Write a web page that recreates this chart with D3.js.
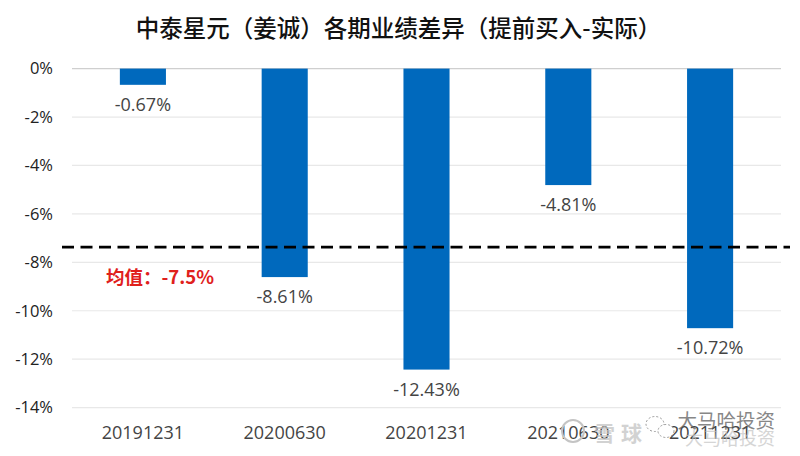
<!DOCTYPE html>
<html lang="zh-CN"><head><meta charset="utf-8">
<script src="https://cdn.jsdelivr.net/npm/d3@7/dist/d3.min.js"></script>
<style>html,body{margin:0;padding:0;background:#fff}svg{display:block}</style></head>
<body><svg id="c" width="800" height="456"></svg>
<script>
const categories=["20191231","20200630","20201231","20210630","20211231"];
const values=[-0.67,-8.61,-12.43,-4.81,-10.72];
const yTicks=[0,-2,-4,-6,-8,-10,-12,-14];
const meanValue=-7.35;
const titleText="中泰星元\uFF08姜诚\uFF09各期业绩差异\uFF08提前买入-实际\uFF09";
const meanLabel="均值\uFF1A-7.5%";
const font="'Open Sans','Noto Sans CJK SC',sans-serif";
const cjk="'Noto Sans CJK SC',sans-serif";
const svg=d3.select("#c");
const x=d3.scaleBand().domain(categories).range([72,781]).paddingInner(0.675).paddingOuter(0.3375);
const y=d3.scaleLinear().domain([0,-14]).range([68.6,407.6]);
svg.append("text").attr("x",398.5).attr("y",37).attr("text-anchor","middle")
  .attr("font-family",cjk).attr("font-size",23.5).attr("font-weight",500).attr("fill","#111").text(titleText);
const yAxis=d3.axisLeft(y).tickValues(yTicks).tickFormat(d=>d+"%").tickSize(0).tickPadding(19);
const gy=svg.append("g").attr("transform","translate(72,0)").call(yAxis);
gy.select(".domain").remove();
gy.selectAll("text").attr("font-family",font).attr("font-size",16.5).attr("fill","#222");
svg.append("g").selectAll("line").data(yTicks).join("line")
  .attr("x1",72).attr("x2",781).attr("y1",d=>y(d)).attr("y2",d=>y(d))
  .attr("stroke",d=>d===0?"#cfcfcf":"#e8e8e8").attr("stroke-width",1.2);
svg.append("g").selectAll("rect").data(values).join("rect")
  .attr("x",(d,i)=>x(categories[i])).attr("width",x.bandwidth())
  .attr("y",y(0)).attr("height",d=>y(d)-y(0)).attr("fill","#0069bd");
svg.append("g").selectAll("text").data(values).join("text")
  .attr("x",(d,i)=>x(categories[i])+x.bandwidth()/2).attr("y",d=>y(d)+26)
  .attr("text-anchor","middle").attr("font-family",font).attr("font-size",18).attr("fill","#444")
  .text(d=>d.toFixed(2)+"%");
svg.append("line").attr("x1",62).attr("x2",790).attr("y1",y(meanValue)+0.5).attr("y2",y(meanValue)+0.5)
  .attr("stroke","#000").attr("stroke-width",2.6).attr("stroke-dasharray","12 6.5");
svg.append("text").attr("x",106).attr("y",283.5).attr("font-family",cjk)
  .attr("font-size",18.5).attr("font-weight",700).attr("fill","#e0201c").text(meanLabel);
svg.append("g").selectAll("text").data(categories).join("text")
  .attr("x",d=>x(d)+x.bandwidth()/2).attr("y",439).attr("text-anchor","middle")
  .attr("font-family",font).attr("font-size",18).attr("fill","#444").text(d=>d);
// watermark
svg.append("circle").attr("cx",573).attr("cy",431).attr("r",11).attr("fill","none").attr("stroke","#c4c4c4").attr("stroke-width",2);
svg.append("text").attr("x",594).attr("y",441).attr("letter-spacing",6).attr("font-family",cjk)
  .attr("font-size",21).attr("font-weight",700).attr("fill","#c4c4c4").attr("opacity",0.75).text("雪球");
svg.append("ellipse").attr("cx",655).attr("cy",424).attr("rx",9).attr("ry",7.5).attr("fill","#fff").attr("stroke","#999").attr("stroke-width",1).attr("stroke-dasharray","2 2");
svg.append("ellipse").attr("cx",666).attr("cy",431).attr("rx",8).attr("ry",6.5).attr("fill","#fff").attr("stroke","#999").attr("stroke-width",1).attr("stroke-dasharray","2 2");
svg.append("text").attr("x",775).attr("y",428).attr("text-anchor","end").attr("font-family",cjk)
  .attr("font-size",19.5).attr("fill","#555").attr("opacity",0.7).text("大马哈投资");
svg.append("text").attr("x",775).attr("y",445).attr("text-anchor","end").attr("font-family",cjk)
  .attr("font-size",18).attr("fill","#c4c4c4").attr("opacity",0.7).text("大马哈投资");
</script></body></html>
